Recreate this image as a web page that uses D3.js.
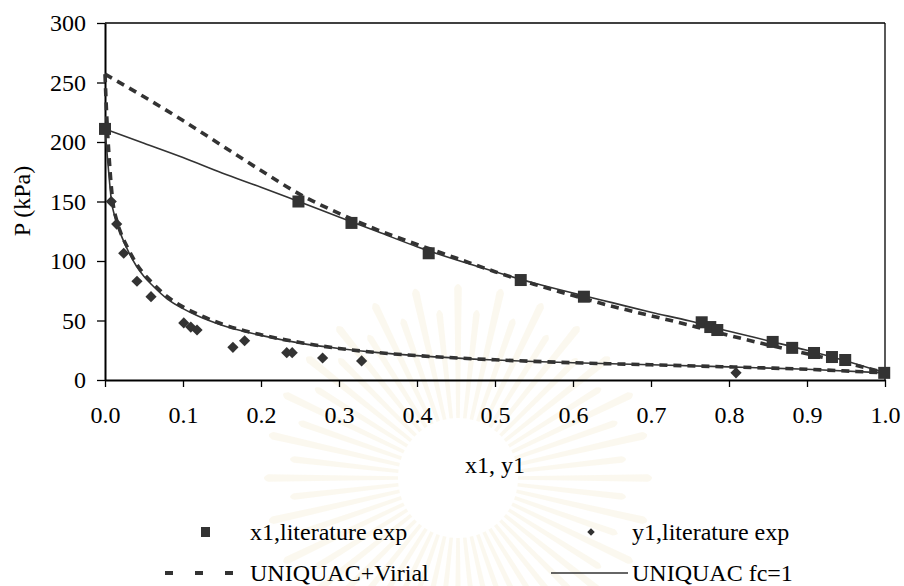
<!DOCTYPE html>
<html>
<head>
<meta charset="utf-8">
<script src="https://cdn.jsdelivr.net/npm/d3@7/dist/d3.min.js"></script>
<style>
  html, body { margin: 0; padding: 0; background: #fff; }
  svg { display: block; font-family: "Liberation Serif", "Times New Roman", serif; }
</style>
</head>
<body>
<svg id="chart" width="904" height="586"></svg>
<script>
// Experimental points (literature)
const x1Exp = [0.000, 0.248, 0.316, 0.415, 0.533, 0.614, 0.765, 0.776, 0.785, 0.856, 0.881, 0.909, 0.932, 0.949, 0.999];
const x1P   = [211, 150, 132, 106.5, 84, 70, 48.5, 44.5, 42, 32, 27, 22.7, 19.3, 16.8, 6];
const y1Exp = [0.008, 0.015, 0.024, 0.041, 0.059, 0.101, 0.110, 0.118, 0.164, 0.179, 0.233, 0.240, 0.279, 0.329, 0.809];
const y1P   = [150, 131, 106.5, 83, 70, 48, 44.5, 42, 27.5, 33, 23, 23, 18.5, 16, 6];

// UNIQUAC fc=1 : bubble and dew curves
const bubX  = [0, 0.05, 0.1, 0.15, 0.2, 0.25, 0.3, 0.35, 0.4, 0.45, 0.5, 0.55, 0.6, 0.65, 0.7, 0.75, 0.8, 0.85, 0.9, 0.95, 1.0];
const bubP  = [211, 199, 187, 174, 162, 149.5, 137, 124.5, 112, 101, 91, 81.5, 73, 65, 57, 49.5, 41, 33, 25, 16, 6];
const dewX  = [0, 0.004, 0.008, 0.015, 0.02, 0.03, 0.04, 0.05, 0.06, 0.08, 0.1, 0.12, 0.15, 0.2, 0.25, 0.3, 0.35, 0.4, 0.5, 0.6, 0.7, 0.8, 0.9, 1.0];
const dewP  = [211, 180, 152, 133, 123, 108, 96, 87, 80, 68, 60, 53.5, 46, 37.5, 31, 26.5, 23, 20.5, 16.8, 14.5, 12.8, 11, 9, 6];

// UNIQUAC + Virial : bubble and dew curves
const bubVP = [257, 238, 218, 197, 176, 156, 140, 126, 114, 102.5, 91, 80.5, 71, 62, 54, 46, 37.5, 29.5, 22, 14.5, 6];
const dewVX = [0, 0.002, 0.005, 0.01, 0.015, 0.02, 0.03, 0.04, 0.05, 0.06, 0.08, 0.1, 0.12, 0.15, 0.2, 0.25, 0.3, 0.35, 0.4, 0.5, 0.6, 0.7, 0.8, 0.9, 1.0];
const dewVP = [257, 225, 190, 150, 134, 124, 110, 98, 89, 82, 70, 61.5, 55, 47, 38, 31.5, 26.5, 23, 20.5, 17, 14.5, 12.8, 11, 9, 6];

const xTicks = [0, 0.1, 0.2, 0.3, 0.4, 0.5, 0.6, 0.7, 0.8, 0.9, 1.0];
const yTicks = [0, 50, 100, 150, 200, 250, 300];

(function draw() {
  const ink = "#333";
  const fs = 24;

  const svg = d3.select("#chart");
  const pl = 105, pr = 885, pt = 23, pb = 380;
  const x = d3.scaleLinear().domain([0, 1]).range([pl, pr]);
  const y = d3.scaleLinear().domain([0, 300]).range([pb, pt]);

  // faint emblem in the background
  const emb = svg.append("g").attr("transform", "translate(458,478)");
  const rays = d3.range(56);
  emb.selectAll("path.ray").data(rays).join("path")
    .attr("class", "ray")
    .attr("d", i => {
      const a = i / rays.length * 2 * Math.PI;
      const w = 0.05;
      const r0 = 60, r1 = (i % 2 ? 165 : 190);
      const p = (r, t) => [r * Math.cos(t), r * Math.sin(t)];
      const [ax, ay] = p(r0, a - w * 0.6), [bx, by] = p(r1, a - w * 0.4),
            [cx, cy] = p(r1 + 8, a), [dx, dy] = p(r1, a + w * 0.4), [ex, ey] = p(r0, a + w * 0.6);
      return `M${ax},${ay}L${bx},${by}Q${cx},${cy} ${dx},${dy}L${ex},${ey}Z`;
    })
    .attr("fill", "#f7f0dc")
    .attr("opacity", 0.45);

  // frame
  svg.append("line").attr("x1", pl).attr("x2", pr).attr("y1", pt).attr("y2", pt)
    .attr("stroke", "#000").attr("stroke-width", 1.3);
  svg.append("line").attr("x1", pr).attr("x2", pr).attr("y1", pt).attr("y2", pb)
    .attr("stroke", "#000").attr("stroke-width", 1.3);

  // axes
  const xAxis = svg.append("g").attr("transform", `translate(0,${pb})`)
    .call(d3.axisBottom(x).tickValues(xTicks).tickFormat(d3.format(".1f")).tickSize(7).tickSizeOuter(0).tickPadding(19));
  const yAxis = svg.append("g").attr("transform", `translate(${pl},0)`)
    .call(d3.axisLeft(y).tickValues(yTicks).tickSize(8).tickSizeOuter(0).tickPadding(11));
  [xAxis, yAxis].forEach(g => {
    g.select(".domain").attr("stroke", "#000").attr("stroke-width", 2);
    g.selectAll(".tick line").attr("stroke", "#000").attr("stroke-width", 1.3);
    g.selectAll(".tick text").attr("font-size", fs).attr("fill", "#000")
      .attr("font-family", "Liberation Serif, Times New Roman, serif");
  });

  // axis titles
  svg.append("text").attr("x", x(0.5)).attr("y", 473).attr("text-anchor", "middle")
    .attr("font-size", fs).text("x1, y1");
  svg.append("text").attr("transform", "translate(30,201) rotate(-90)").attr("text-anchor", "middle")
    .attr("font-size", fs).text("P (kPa)");

  // model curves
  const line = d3.line().x(d => x(d[0])).y(d => y(d[1])).curve(d3.curveMonotoneX);
  const zip = (a, b) => a.map((v, i) => [v, b[i]]);
  const plot = svg.append("g");

  [zip(bubX, bubVP), zip(dewVX, dewVP)].forEach(pts => {
    plot.append("path").attr("d", line(pts)).attr("fill", "none")
      .attr("stroke", ink).attr("stroke-width", 3.6).attr("stroke-dasharray", "8,6");
  });
  [zip(bubX, bubP), zip(dewX, dewP)].forEach(pts => {
    plot.append("path").attr("d", line(pts)).attr("fill", "none")
      .attr("stroke", ink).attr("stroke-width", 1.6);
  });

  // experimental markers
  const sq = 12;
  plot.selectAll("rect.x1").data(zip(x1Exp, x1P)).join("rect")
    .attr("class", "x1")
    .attr("x", d => x(d[0]) - sq / 2).attr("y", d => y(d[1]) - sq / 2)
    .attr("width", sq).attr("height", sq).attr("fill", ink);
  const diamond = d3.symbol().type(d3.symbolDiamond2).size(80);
  plot.selectAll("path.y1").data(zip(y1Exp, y1P)).join("path")
    .attr("class", "y1")
    .attr("transform", d => `translate(${x(d[0])},${y(d[1])})`)
    .attr("d", diamond).attr("fill", ink);

  // legend
  const lg = svg.append("g").attr("font-size", fs);
  const row1 = 540, row2 = 581;
  lg.append("rect").attr("x", 201).attr("y", row1 - 13).attr("width", 9).attr("height", 10).attr("fill", ink);
  lg.append("text").attr("x", 250).attr("y", row1).text("x1,literature exp");
  lg.append("path").attr("transform", `translate(591,${row1 - 8})`).attr("d", d3.symbol().type(d3.symbolDiamond2).size(36)).attr("fill", ink);
  lg.append("text").attr("x", 632).attr("y", row1).text("y1,literature exp");
  lg.append("line").attr("x1", 165).attr("x2", 235).attr("y1", row2 - 8).attr("y2", row2 - 8)
    .attr("stroke", ink).attr("stroke-width", 4).attr("stroke-dasharray", "8,22");
  lg.append("text").attr("x", 250).attr("y", row2).text("UNIQUAC+Virial");
  lg.append("line").attr("x1", 551).attr("x2", 628).attr("y1", row2 - 8).attr("y2", row2 - 8)
    .attr("stroke", ink).attr("stroke-width", 1.3);
  lg.append("text").attr("x", 632).attr("y", row2).text("UNIQUAC fc=1");
})();
</script>
</body>
</html>
